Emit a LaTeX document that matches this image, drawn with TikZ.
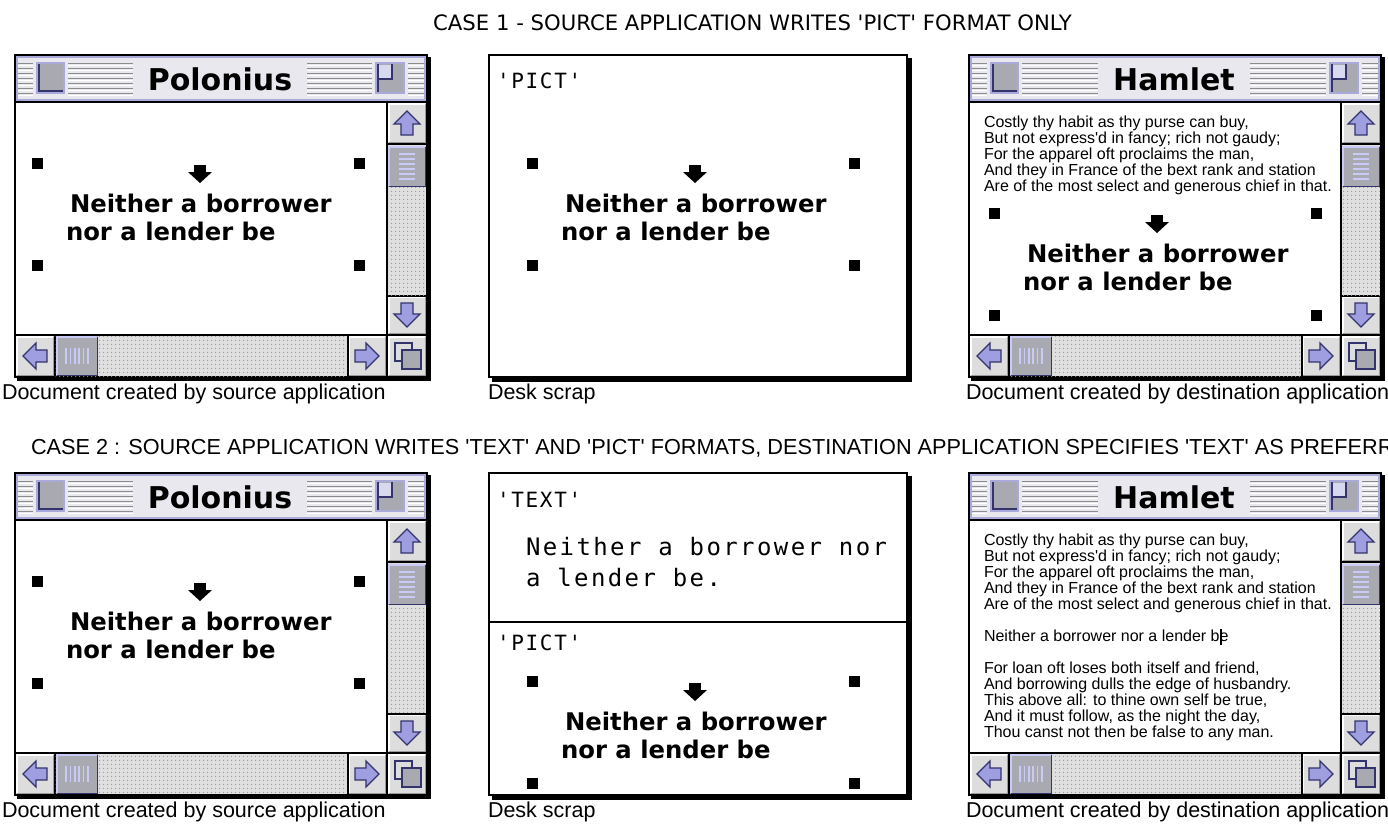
\documentclass[tikz,border=0pt]{standalone}
\usepackage{fontspec}
\usetikzlibrary{patterns.meta}
\newfontfamily\chic{DejaVu Sans}
\newfontfamily\verd{DejaVu Sans}
\newfontfamily\arial{Liberation Sans}
\newfontfamily\monaco{DejaVu Sans Mono}[LetterSpace=8]
\newfontfamily\monacob{DejaVu Sans Mono}[LetterSpace=10]
\definecolor{titlebg}{HTML}{E8E8EE}
\definecolor{lav}{HTML}{A9A9DA}
\definecolor{stripe}{HTML}{8C8C8C}
\definecolor{navy}{HTML}{34346C}
\definecolor{arrowfill}{HTML}{9E9EE0}
\definecolor{boxbg}{HTML}{DDDDDD}
\definecolor{boxshadow}{HTML}{9A9A9A}
\definecolor{thumbgray}{HTML}{A9A9B2}
\definecolor{thumblite}{HTML}{CACAF6}
\definecolor{trackbg}{HTML}{E0E0E0}
\definecolor{dotcol}{HTML}{989898}
\tikzset{
  every node/.style={inner sep=0pt, outer sep=0pt},
  wintitle/.style={font=\chic\bfseries\fontsize{30}{34}\selectfont, fill=titlebg, inner xsep=15pt, minimum height=34pt},
  pictfont/.style={font=\chic\bfseries\fontsize{24.3}{28}\selectfont, anchor=base west},
  handle/.style={fill=black},
  arrowglyph/.style={fill=arrowfill, draw=navy, line width=1.3pt, line join=miter},
  monotext/.style={font=\monaco\fontsize{21}{30}\selectfont, anchor=base west},
  monobody/.style={font=\monacob\fontsize{24}{30}\selectfont, anchor=base west},
  caption/.style={font=\arial\fontsize{21.5}{24}\selectfont, anchor=base west},
  poem/.style={font=\arial\fontsize{16}{16}\selectfont, anchor=north west, align=left},
}
\newcommand\bevelbox[4]{%
  \fill[boxbg] (#1,#2) rectangle (#3,#4);
  \draw[white, line width=1.5pt] ({#1+0.75},{#4-0.75}) -- ({#1+0.75},{#2+0.75}) -- ({#3-0.75},{#2+0.75});
  \draw[boxshadow, line width=1.5pt] ({#1+0.75},{#4-0.75}) -- ({#3-0.75},{#4-0.75}) -- ({#3-0.75},{#2+0.75});
}
\newcommand\scrollarrow[3]{%
  \begin{scope}[shift={(#1,#2)}, rotate=#3]
    \filldraw[arrowglyph] (-13,1) -- (0,-12) -- (13,1) -- (6,1) -- (6,12) -- (-6,12) -- (-6,1) -- cycle;
  \end{scope}}
\newcommand\scrolltrack[4]{%
  \fill[trackbg] (#1,#2) rectangle (#3,#4);
  \fill[pattern={Dots[distance=4pt, radius=0.85pt]}, pattern color=dotcol] (#1,#2) rectangle (#3,#4);
}
\newcommand\vthumb[4]{%
  \fill[thumbgray] (#1,#2) rectangle (#3,#4);
  \draw[thumblite, line width=2pt] ({#1+1},{#4-1}) -- ({#1+1},{#2+1}) -- ({#3-1},{#2+1});
  \draw[navy, line width=1.5pt] ({#1+1},{#4-0.75}) -- ({#3-0.75},{#4-0.75}) -- ({#3-0.75},{#2+1});
  \foreach \k in {0,...,5}{\draw[thumblite, line width=1.6pt] ({(#1+#3)/2-8},{(#2+#4)/2-12.5+5*\k}) -- ++(16,0);}
}
\newcommand\hthumb[4]{%
  \fill[thumbgray] (#1,#2) rectangle (#3,#4);
  \draw[thumblite, line width=2pt] ({#1+1},{#4-1}) -- ({#1+1},{#2+1}) -- ({#3-1},{#2+1});
  \draw[navy, line width=1.5pt] ({#1+1},{#4-0.75}) -- ({#3-0.75},{#4-0.75}) -- ({#3-0.75},{#2+1});
  \foreach \k in {0,...,5}{\draw[thumblite, line width=1.6pt] ({(#1+#3)/2-11+4.4*\k},{(#2+#4)/2-8}) -- ++(0,16);}
}
\newcommand\growbox[2]{%
  \bevelbox{#1}{#2}{#1+38}{#2+40}
  \draw[navy, line width=1.6pt, fill=boxbg] ({#1+7},{#2+7}) rectangle ({#1+24},{#2+25});
  \draw[navy, line width=1.6pt, fill=thumbgray] ({#1+14},{#2+14}) rectangle ({#1+33},{#2+33});
}
\newcommand\macwin[4]{%
\begin{scope}[shift={(#1,#2)}]
  \fill[black] (3,3) rectangle (417,327);
  \fill[black] (0,0) rectangle (414,324);
  \fill[white] (2,49) rectangle (372,280);
  \fill[lav] (2,2) rectangle (412,47);
  \fill[titlebg] (4,4) rectangle (410,45);
  \foreach \k in {0,...,6}{
    \draw[stripe, line width=1.6pt] (4,{9.5+5*\k}) -- (410,{9.5+5*\k});
    \draw[white, line width=1pt] (4,{11.4+5*\k}) -- (410,{11.4+5*\k});
  }
  \node[wintitle] (#4title) at (206,25) {#3};
  % close box
  \fill[titlebg] (19,6) rectangle (54,44);
  \fill[thumbgray] (23,9) rectangle (50,39);
  \draw[lav, line width=1.5pt] (23,9) rectangle (50,39);
  \draw[navy, line width=2pt] (25,10) -- (25,37) -- (49,37);
  % zoom box
  \fill[titlebg] (358,6) rectangle (394,44);
  \fill[thumbgray] (362,9) rectangle (390,39);
  \fill[lav!45!white] (364,11) rectangle (378,25);
  \draw[lav, line width=1.5pt] (362,9) rectangle (390,39);
  \draw[navy, line width=2pt] (364,10) -- (364,38);
  \draw[navy, line width=2pt] (378,10) -- (378,25) -- (364,25);
  % vertical scroll bar
  \bevelbox{374}{49}{412}{89}
  \scrollarrow{393}{69}{0}
  \scrolltrack{374}{90.5}{412}{241}
  \vthumb{374}{92}{412}{133}
  \bevelbox{374}{242.5}{412}{280}
  \scrollarrow{393}{261}{180}
  % horizontal scroll bar
  \bevelbox{2}{282}{40}{322}
  \scrollarrow{21}{302}{90}
  \scrolltrack{41.5}{282}{333}{322}
  \hthumb{42}{282}{84}{322}
  \bevelbox{334.5}{282}{372}{322}
  \scrollarrow{353}{302}{-90}
  \growbox{374}{282}
\end{scope}}
\newcommand\deskscrap[1]{%
  \fill[black] (492,{#1+4}) rectangle (912,{#1+328});
  \fill[black] (488,#1) rectangle (908,{#1+324});
  \fill[white] (490,{#1+2}) rectangle (906,{#1+322});
}
\newcommand\pictstuff[3]{%
\begin{scope}[shift={(#1,#2)}]
  \fill[handle] (32,158) rectangle (43,169);
  \fill[handle] (354,158) rectangle (365,169);
  \fill[handle] (32,260) rectangle (43,271);
  \fill[handle] (354,260) rectangle (365,271);
  \fill (194,165) rectangle (206,172);
  \fill (188,172) -- (212,172) -- (200,183) -- cycle;
  \node[pictfont] (#3l1) at (70,212) {Neither a borrower};
  \node[pictfont] (#3l2) at (66,240) {nor a lender be};
\end{scope}}
\begin{document}
\begin{tikzpicture}[x=1pt,y=-1pt]
  \useasboundingbox (0,0) rectangle (1388,823);
  \fill[white] (0,0) rectangle (1388,823);
  \node[font=\verd\fontsize{21.2}{24}\selectfont, anchor=base] (case1) at (752.5,30) {CASE 1 - SOURCE APPLICATION WRITES 'PICT' FORMAT ONLY};
  \node[font=\arial\fontsize{21.7}{24}\selectfont, anchor=base west] (case2) at (31,454) {CASE 2 : SOURCE APPLICATION WRITES 'TEXT' AND 'PICT' FORMATS, DESTINATION APPLICATION SPECIFIES 'TEXT' AS PREFERR};
  % case 1
  \macwin{14}{54}{Polonius}{wa}
  \deskscrap{54}
  \macwin{968}{54}{Hamlet}{wb}
  \pictstuff{0}{0}{pa}
  \pictstuff{495}{0}{pc}
  \pictstuff{957}{50}{pe}
  \node[monotext] (scrap1) at (497,88) {'PICT'};
  \node[poem] (poem1) at (984,115.5) {Costly thy habit as thy purse can buy,\\But not express'd in fancy; rich not gaudy;\\For the apparel oft proclaims the man,\\And they in France of the bext rank and station\\Are of the most select and generous chief in that.};
  \node[caption] (lab1) at (2,399) {Document created by source application};
  \node[caption] (lab2) at (488,399) {Desk scrap};
  \node[caption] (lab3) at (966,399) {Document created by destination application};
  % case 2
  \macwin{14}{472}{Polonius}{wc}
  \deskscrap{472}
  \macwin{968}{472}{Hamlet}{wd}
  \pictstuff{0}{418}{pb}
  \pictstuff{495}{518}{pd}
  \node[monotext] (scrap2) at (497,507) {'TEXT'};
  \node[monobody] (scrap3) at (526,555) {Neither a borrower nor};
  \node[monobody] (scrap4) at (526,586) {a lender be.};
  \fill[black] (488,621) rectangle (908,623);
  \node[monotext] (scrap5) at (497,650) {'PICT'};
  \node[poem] (poem2) at (984,533.5) {Costly thy habit as thy purse can buy,\\But not express'd in fancy; rich not gaudy;\\For the apparel oft proclaims the man,\\And they in France of the bext rank and station\\Are of the most select and generous chief in that.\\[16pt]Neither a borrower nor a lender b\rlap{\rule[-3.5pt]{2.5pt}{15.5pt}}e\\[16pt]For loan oft loses both itself and friend,\\And borrowing dulls the edge of husbandry.\\This above all: to thine own self be true,\\And it must follow, as the night the day,\\Thou canst not then be false to any man.};
  \node[caption] (lab4) at (2,817) {Document created by source application};
  \node[caption] (lab5) at (488,817) {Desk scrap};
  \node[caption] (lab6) at (966,817) {Document created by destination application};
\end{tikzpicture}
\end{document}
